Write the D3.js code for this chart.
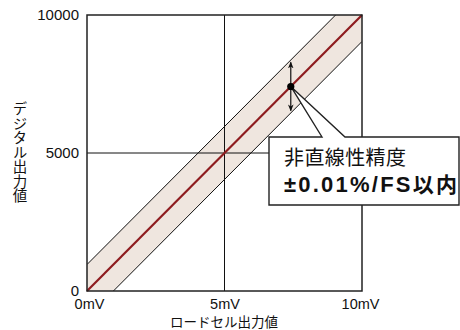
<!DOCTYPE html>
<html><head><meta charset="utf-8">
<script src="https://cdn.jsdelivr.net/npm/d3@7"></script>
<style>
html,body{margin:0;padding:0;background:#fff;}
svg{display:block;}
</style></head>
<body>
<svg id="chart" width="460" height="330"></svg>
<script>
// ---- data ----
const xTicks = [0, 5, 10];
const xTickLabels = ["0mV", "5mV", "10mV"];
const yTicks = [0, 5000, 10000];
const yTickLabels = ["0", "5000", "10000"];
const idealX = [0, 10];
const idealY = [0, 10000];
const bandOffset = 960;           // ±tolerance band (digital counts)
const markerX = [7.41];
const markerY = [7410];
const xTitle = "ロードセル出力値";
const yTitle = "デジタル出力値";
const calloutTitle = "非直線性精度";
const calloutValue = ["±0.01%/FS", "以内"];

// ---- layout ----
const svg = d3.select("#chart");
const L = 87, R = 362, T = 15, B = 291;
const x = d3.scaleLinear().domain([0, 10]).range([L, R]);
const y = d3.scaleLinear().domain([0, 10000]).range([B, T]);
const latin = "'Liberation Sans', Arial, Helvetica, sans-serif";
const cjk = "'Noto Sans CJK JP', 'Noto Sans', sans-serif";
const titleFont = "'Liberation Sans', 'Noto Sans CJK JP', sans-serif";

svg.append("defs").append("clipPath").attr("id", "plotclip")
  .append("rect").attr("x", L).attr("y", T).attr("width", R - L).attr("height", B - T);

// band
const bandPoly = [
  [idealX[0], idealY[0] + bandOffset], [idealX[1], idealY[1] + bandOffset],
  [idealX[1], idealY[1] - bandOffset], [idealX[0], idealY[0] - bandOffset]
];
const g = svg.append("g").attr("clip-path", "url(#plotclip)");
g.append("path")
  .attr("d", d3.line().x(d => x(d[0])).y(d => y(d[1]))(bandPoly) + "Z")
  .attr("fill", "#efe6df");

// grid lines
svg.append("line").attr("x1", x(5)).attr("x2", x(5)).attr("y1", T).attr("y2", B)
  .attr("stroke", "#111").attr("stroke-width", 1);
svg.append("line").attr("x1", L).attr("x2", R).attr("y1", y(5000)).attr("y2", y(5000))
  .attr("stroke", "#111").attr("stroke-width", 1);

// band edges
[bandOffset, -bandOffset].forEach(o => {
  g.append("line")
    .attr("x1", x(idealX[0])).attr("y1", y(idealY[0] + o))
    .attr("x2", x(idealX[1])).attr("y2", y(idealY[1] + o))
    .attr("stroke", "#111").attr("stroke-width", 1);
});

// ideal line
svg.append("line")
  .attr("x1", x(idealX[0])).attr("y1", y(idealY[0]))
  .attr("x2", x(idealX[1])).attr("y2", y(idealY[1]))
  .attr("stroke", "#8e1c1f").attr("stroke-width", 2.2);

// plot frame
svg.append("rect").attr("x", L).attr("y", T).attr("width", R - L).attr("height", B - T)
  .attr("fill", "none").attr("stroke", "#222").attr("stroke-width", 1.5);

// axes (labels only)
const xAxis = svg.append("g").attr("transform", `translate(0,${B})`)
  .call(d3.axisBottom(x).tickValues(xTicks).tickSize(0).tickPadding(8)
    .tickFormat((d, i) => xTickLabels[i]));
xAxis.select(".domain").remove();
xAxis.selectAll("text").attr("font-family", latin).attr("font-size", 14.5).attr("fill", "#111")
  .attr("dx", (d, i) => i === 0 ? 2 : (i === 2 ? -2 : 0));

const yAxis = svg.append("g").attr("transform", `translate(${L},0)`)
  .call(d3.axisLeft(y).tickValues(yTicks).tickSize(0).tickPadding(8)
    .tickFormat((d, i) => yTickLabels[i]));
yAxis.select(".domain").remove();
yAxis.selectAll("text").attr("font-family", latin).attr("font-size", 15).attr("fill", "#111");

// axis titles
svg.append("text").attr("x", 224).attr("y", 327)
  .attr("text-anchor", "middle").attr("font-family", titleFont).attr("font-size", 13.5)
  .attr("fill", "#111").text(xTitle);
svg.append("text").attr("x", 20).attr("y", 152)
  .attr("text-anchor", "middle").attr("font-family", cjk).attr("font-size", 14.5)
  .attr("fill", "#111").style("writing-mode", "vertical-rl").text(yTitle);

// arrow
const defs = svg.select("defs");
defs.append("marker").attr("id", "ah").attr("viewBox", "0 0 10 10")
  .attr("refX", 9).attr("refY", 5).attr("markerWidth", 7).attr("markerHeight", 7)
  .attr("orient", "auto-start-reverse").attr("markerUnits", "userSpaceOnUse")
  .append("path").attr("d", "M0,1 L10,5 L0,9 L3,5 Z").attr("fill", "#111");
svg.append("line")
  .attr("x1", x(markerX[0])).attr("x2", x(markerX[0]))
  .attr("y1", y(markerY[0] + bandOffset - 80)).attr("y2", y(markerY[0] - bandOffset + 80))
  .attr("stroke", "#111").attr("stroke-width", 1.2)
  .attr("marker-start", "url(#ah)").attr("marker-end", "url(#ah)");

// callout
const px = x(markerX[0]), py = y(markerY[0]);
const bx0 = 269, bx1 = 459, by0 = 137, by1 = 205, p0 = 322, p1 = 345;
svg.append("path")
  .attr("d", `M${p0},${by0} L${px},${py} L${p1},${by0} L${bx1},${by0} L${bx1},${by1} L${bx0},${by1} L${bx0},${by0} Z`)
  .attr("fill", "#fff").attr("stroke", "#222").attr("stroke-width", 1.4)
  .attr("stroke-linejoin", "miter");
svg.append("text").attr("x", 284).attr("y", 165)
  .attr("font-family", cjk).attr("font-size", 20).attr("fill", "#111")
  .attr("textLength", 122).attr("lengthAdjust", "spacing")
  .text(calloutTitle);
const t2 = svg.append("text").attr("x", 284).attr("y", 192)
  .attr("font-weight", "bold").attr("fill", "#111")
  .attr("textLength", 173).attr("lengthAdjust", "spacing");
t2.append("tspan").attr("font-family", latin).attr("font-size", 22).text(calloutValue[0]);
t2.append("tspan").attr("font-family", cjk).attr("font-size", 21).text(calloutValue[1]);

// marker dot
svg.selectAll("circle.m").data(markerX).enter().append("circle")
  .attr("cx", (d) => x(d)).attr("cy", (d, i) => y(markerY[i])).attr("r", 3.6).attr("fill", "#000");
</script>
</body></html>
